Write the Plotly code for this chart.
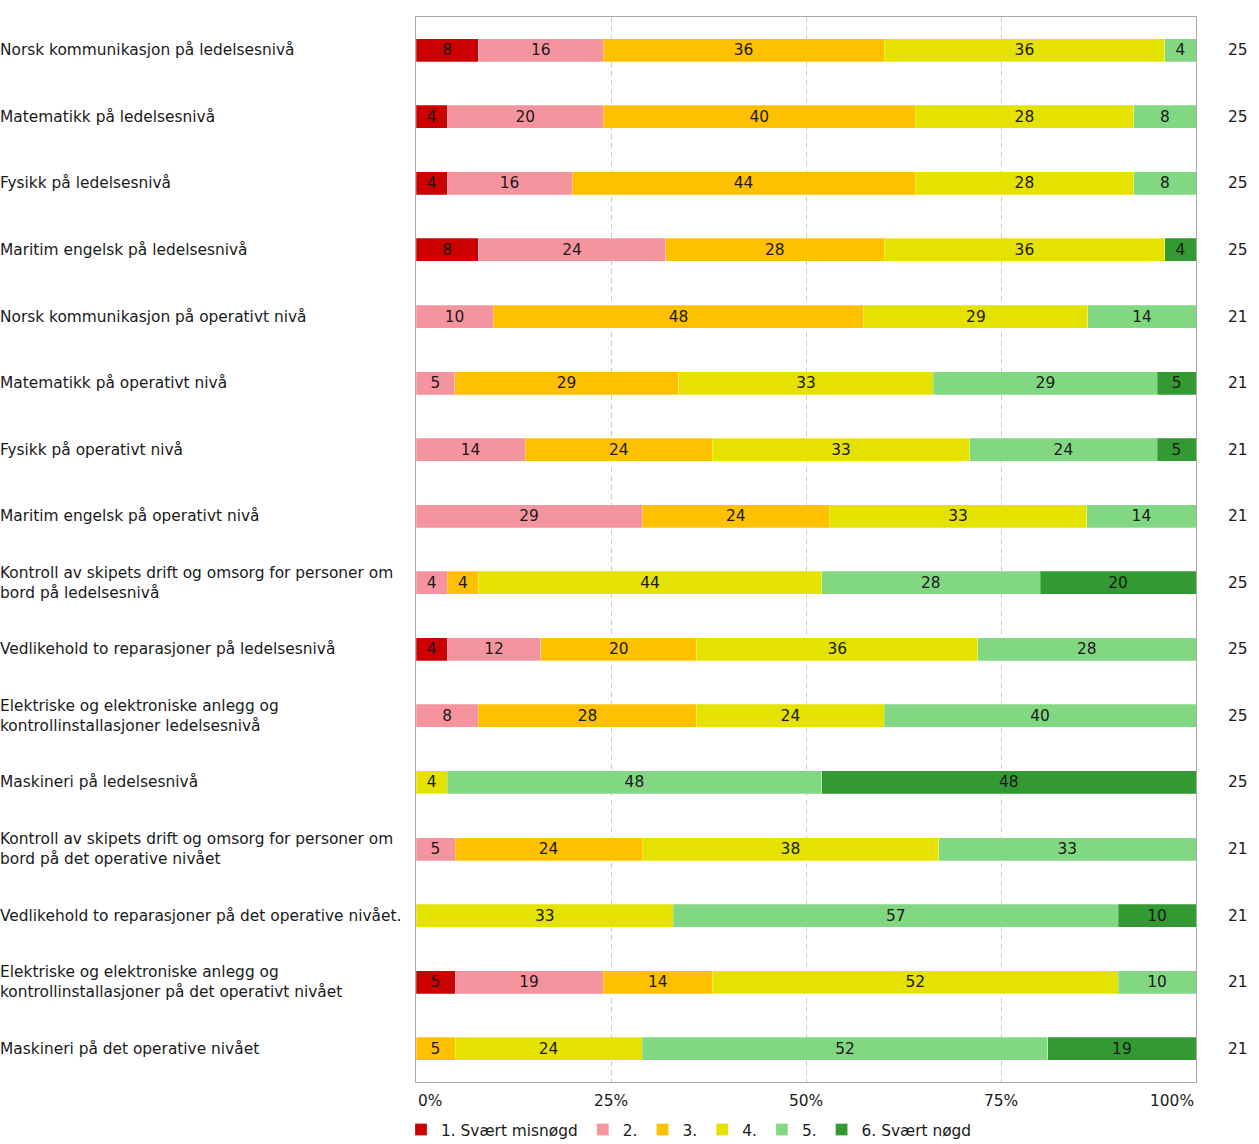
import plotly.graph_objects as go

categories = [
    "Norsk kommunikasjon på ledelsesnivå",
    "Matematikk på ledelsesnivå",
    "Fysikk på ledelsesnivå",
    "Maritim engelsk på ledelsesnivå",
    "Norsk kommunikasjon på operativt nivå",
    "Matematikk på operativt nivå",
    "Fysikk på operativt nivå",
    "Maritim engelsk på operativt nivå",
    "Kontroll av skipets drift og omsorg for personer om<br>bord på ledelsesnivå",
    "Vedlikehold to reparasjoner på ledelsesnivå",
    "Elektriske og elektroniske anlegg og<br>kontrollinstallasjoner ledelsesnivå",
    "Maskineri på ledelsesnivå",
    "Kontroll av skipets drift og omsorg for personer om<br>bord på det operative nivået",
    "Vedlikehold to reparasjoner på det operative nivået.",
    "Elektriske og elektroniske anlegg og<br>kontrollinstallasjoner på det operativt nivået",
    "Maskineri på det operative nivået",
]
n_answers = [25, 25, 25, 25, 21, 21, 21, 21, 25, 25, 25, 25, 21, 21, 21, 21]

series_names = ["1. Svært misnøgd", "2.", "3.", "4.", "5.", "6. Svært nøgd"]
s1 = [8, 4, 4, 8, 0, 0, 0, 0, 0, 4, 0, 0, 0, 0, 5, 0]
s2 = [16, 20, 16, 24, 10, 5, 14, 29, 4, 12, 8, 0, 5, 0, 19, 0]
s3 = [36, 40, 44, 28, 48, 29, 24, 24, 4, 20, 28, 0, 24, 0, 14, 5]
s4 = [36, 28, 28, 36, 29, 33, 33, 33, 44, 36, 24, 4, 38, 33, 52, 24]
s5 = [4, 8, 8, 0, 14, 29, 24, 14, 28, 28, 40, 48, 33, 57, 10, 52]
s6 = [0, 0, 0, 4, 0, 5, 5, 0, 20, 0, 0, 48, 0, 10, 0, 19]
series = [s1, s2, s3, s4, s5, s6]
colors = ["#CC0000", "#F5949F", "#FFC000", "#E6E200", "#82D882", "#339933"]
tick_vals = [0, 25, 50, 75, 100]
tick_text = ["0%", "25%", "50%", "75%", "100%"]

FONT = "DejaVu Sans, Verdana, sans-serif"
FS = 15.4
TXT = "#1a1a1a"

y_idx = list(range(len(categories)))

fig = go.Figure()
for name, vals, col in zip(series_names, series, colors):
    fig.add_trace(go.Bar(
        y=y_idx, x=[v if v else None for v in vals], orientation="h",
        name=name, marker=dict(color=col, line=dict(color="rgba(255,255,255,0.5)", width=0.5)),
        text=[str(v) if v else "" for v in vals], textposition="inside",
        insidetextanchor="middle", constraintext="none", textangle=0,
        textfont=dict(family=FONT, size=FS, color=TXT),
        hoverinfo="name+x",
    ))

L, R, T, B = 416, 63, 17, 62
W, H = 1259, 1144
pw = W - L - R
ph = H - T - B

annotations = []
for i, (c, n) in enumerate(zip(categories, n_answers)):
    annotations.append(dict(x=-(L + 2) / pw, xref="paper", y=i, yref="y", text=c, showarrow=False,
                            xanchor="left", yanchor="middle", align="left",
                            font=dict(family=FONT, size=FS, color=TXT)))
    annotations.append(dict(x=(1238 - L) / pw, xref="paper", y=i, yref="y", text=str(n), showarrow=False,
                            xanchor="center", yanchor="middle",
                            font=dict(family=FONT, size=FS, color=TXT)))
for v, t in zip(tick_vals, tick_text):
    anchor = "left" if v == 0 else ("right" if v == 100 else "center")
    annotations.append(dict(x=v, xref="x", y=-(1101 - 1082) / ph, yref="paper", text=t, showarrow=False,
                            xanchor=anchor, yanchor="middle",
                            font=dict(family=FONT, size=FS, color=TXT)))

fig.update_layout(
    barmode="stack", barnorm="percent", bargap=0.655,
    width=W, height=H,
    margin=dict(l=L, r=R, t=T, b=B, pad=0, autoexpand=False),
    paper_bgcolor="white", plot_bgcolor="white",
    font=dict(family=FONT, size=FS, color=TXT),
    uniformtext=dict(minsize=FS, mode="show"),
    xaxis=dict(range=[0, 100], tickvals=tick_vals, showticklabels=False, ticks="",
               showgrid=True, gridcolor="#cccccc", griddash="5px,4px", gridwidth=1,
               showline=True, linecolor="#aaaaaa", linewidth=1, mirror=True, zeroline=False,
               fixedrange=True),
    yaxis=dict(tickvals=y_idx, showticklabels=False, ticks="", showgrid=False,
               range=[len(categories) - 0.5, -0.5],
               showline=True, linecolor="#aaaaaa", linewidth=1, mirror=True, zeroline=False),
    legend=dict(orientation="h", x=-15 / pw, xanchor="left",
                yref="container", y=(H - 1130) / H, yanchor="middle",
                font=dict(family=FONT, size=FS, color=TXT), traceorder="normal",
                itemwidth=30, tracegroupgap=0, bgcolor="rgba(0,0,0,0)"),
    annotations=annotations,
    showlegend=True,
)

fig.write_html("out.html", config={"displayModeBar": False},
               post_script="document.body.style.margin='0';")
